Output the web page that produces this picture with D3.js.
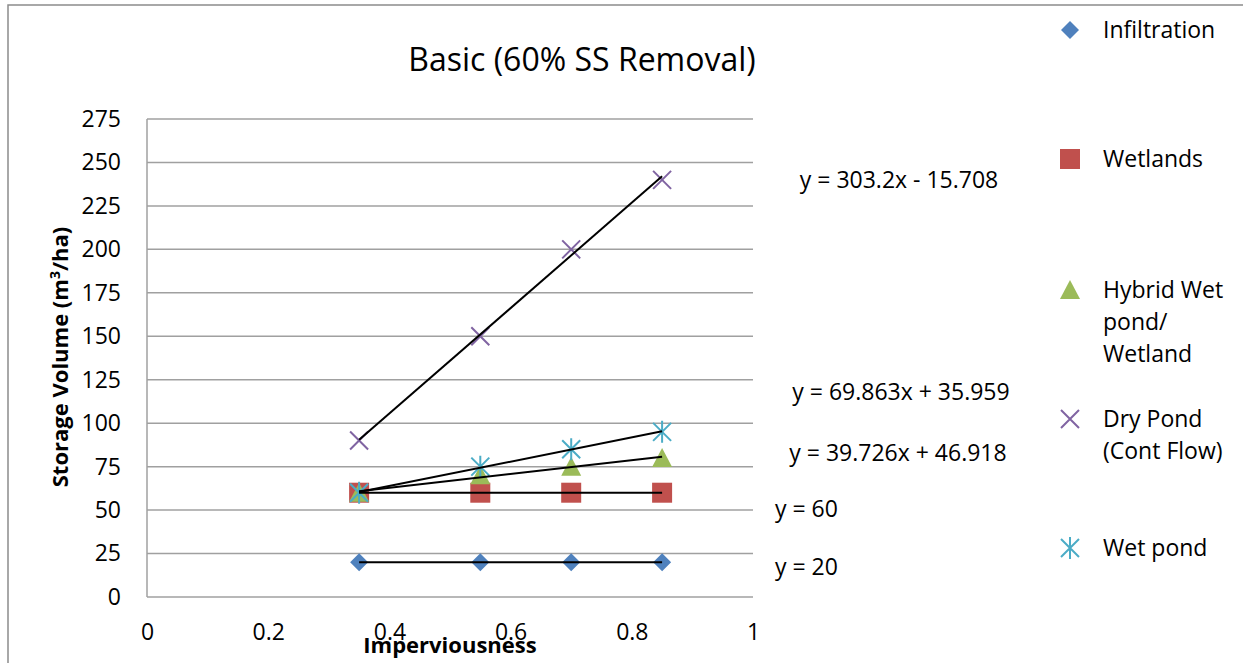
<!DOCTYPE html>
<html>
<head>
<meta charset="utf-8">
<script src="https://cdn.jsdelivr.net/npm/d3@7"></script>
<style>
  body { margin: 0; background: #fff; }
  svg text { font-family: "Open Sans", sans-serif; fill: #000; }
</style>
</head>
<body>
<svg id="chart" width="1243" height="663"></svg>
<script>
// data
var xValues = [0.35, 0.55, 0.7, 0.85];
var infiltration = [20, 20, 20, 20];
var wetlands = [60, 60, 60, 60];
var hybrid = [60, 70, 75, 80];
var dryPond = [90, 150, 200, 240];
var wetPond = [60, 75, 85, 95];
var seriesNames = ["Infiltration", "Wetlands", "Hybrid Wet pond/ Wetland", "Dry Pond (Cont Flow)", "Wet pond"];
var trendLabels = ["y = 20", "y = 60", "y = 39.726x + 46.918", "y = 303.2x - 15.708", "y = 69.863x + 35.959"];
var xTicks = [0, 0.2, 0.4, 0.6, 0.8, 1];
var yTicks = [0, 25, 50, 75, 100, 125, 150, 175, 200, 225, 250, 275];

var series = [
  {name: seriesNames[0], vals: infiltration, color: "#4F81BD", shape: "diamond", label: trendLabels[0], lx: 775, ly: 567, anchor: "start"},
  {name: seriesNames[1], vals: wetlands, color: "#C0504D", shape: "square", label: trendLabels[1], lx: 775, ly: 509, anchor: "start"},
  {name: seriesNames[2], vals: hybrid, color: "#9BBB59", shape: "triangle", label: trendLabels[2], lx: 898, ly: 453, anchor: "middle"},
  {name: seriesNames[3], vals: dryPond, color: "#8064A2", shape: "x", label: trendLabels[3], lx: 899, ly: 180, anchor: "middle"},
  {name: seriesNames[4], vals: wetPond, color: "#4BACC6", shape: "star", label: trendLabels[4], lx: 901, ly: 392, anchor: "middle"}
];

var svg = d3.select("#chart");

// outer chart border (cut off at right/bottom)
svg.append("rect")
  .attr("x", 8).attr("y", 5)
  .attr("width", 1300).attr("height", 700)
  .attr("fill", "none").attr("stroke", "#8c8c8c").attr("stroke-width", 1.5);

var plotLeft = 147, plotRight = 753, plotTop = 119, plotBottom = 597;
var fs = 23;

var x = d3.scaleLinear().domain([0, 1]).range([plotLeft, plotRight]);
var y = d3.scaleLinear().domain([0, 275]).range([plotBottom, plotTop]);

// gridlines
svg.append("g").selectAll("line")
  .data(yTicks)
  .enter().append("line")
    .attr("x1", plotLeft).attr("x2", plotRight)
    .attr("y1", function(d) { return y(d); })
    .attr("y2", function(d) { return y(d); })
    .attr("stroke", "#a0a0a0").attr("stroke-width", 1.5);

// y axis line
svg.append("line")
  .attr("x1", plotLeft).attr("x2", plotLeft).attr("y1", plotTop).attr("y2", plotBottom)
  .attr("stroke", "#a0a0a0").attr("stroke-width", 1.5);

var yAxis = d3.axisLeft(y).tickValues(yTicks).tickSize(0).tickPadding(26);
var gy = svg.append("g").attr("transform", "translate(" + plotLeft + ",0)").call(yAxis);
gy.select(".domain").remove();
gy.selectAll("text").style("font-size", fs + "px").style("font-family", "'Open Sans', sans-serif");

var xAxis = d3.axisBottom(x).tickValues(xTicks).tickSize(0).tickPadding(27)
  .tickFormat(function(d) { return String(d); });
var gx = svg.append("g").attr("transform", "translate(0," + plotBottom + ")").call(xAxis);
gx.select(".domain").remove();
gx.selectAll("text").style("font-size", fs + "px").style("font-family", "'Open Sans', sans-serif");

// title and axis titles
svg.append("text")
  .attr("x", 582).attr("y", 71)
  .attr("text-anchor", "middle")
  .style("font-size", "32px")
  .text("Basic (60% SS Removal)");

svg.append("text")
  .attr("x", 450).attr("y", 653)
  .attr("text-anchor", "middle")
  .style("font-size", "22px").style("font-weight", "bold")
  .text("Imperviousness");

var yt = svg.append("text")
  .attr("transform", "translate(68,357) rotate(-90)")
  .attr("text-anchor", "middle")
  .style("font-size", "22px").style("font-weight", "bold");
yt.append("tspan").text("Storage Volume (m");
yt.append("tspan").attr("dy", -8).style("font-size", "14px").text("3");
yt.append("tspan").attr("dy", 8).text("/ha)");

// marker drawing
function marker(g, shape, color) {
  if (shape === "diamond") {
    g.append("path").attr("d", "M0,-9L9,0L0,9L-9,0Z").attr("fill", color);
  } else if (shape === "square") {
    g.append("rect").attr("x", -10).attr("y", -10).attr("width", 20).attr("height", 20).attr("fill", color);
  } else if (shape === "triangle") {
    g.append("path").attr("d", "M0,-10L10,9L-10,9Z").attr("fill", color);
  } else if (shape === "x") {
    g.append("path").attr("d", "M-9,-9L9,9M-9,9L9,-9").attr("stroke", color).attr("stroke-width", 2).attr("fill", "none");
  } else if (shape === "star") {
    g.append("path").attr("d", "M-9,-9L9,9M-9,9L9,-9M0,-11L0,11").attr("stroke", color).attr("stroke-width", 2).attr("fill", "none");
  }
}

series.forEach(function(s) {
  var pts = xValues.map(function(xv, i) { return {x: xv, y: s.vals[i]}; });
  svg.append("g").selectAll("g")
    .data(pts)
    .enter().append("g")
      .attr("transform", function(d) { return "translate(" + x(d.x) + "," + y(d.y) + ")"; })
      .each(function() { marker(d3.select(this), s.shape, s.color); });
});

// linear trend lines (least squares)
series.forEach(function(s) {
  var mx = d3.mean(xValues), my = d3.mean(s.vals);
  var num = d3.sum(xValues, function(xv, i) { return (xv - mx) * (s.vals[i] - my); });
  var den = d3.sum(xValues, function(xv) { return (xv - mx) * (xv - mx); });
  var slope = num / den, icpt = my - slope * mx;
  var x0 = d3.min(xValues), x1 = d3.max(xValues);
  svg.append("line")
    .attr("x1", x(x0)).attr("y1", y(slope * x0 + icpt))
    .attr("x2", x(x1)).attr("y2", y(slope * x1 + icpt))
    .attr("stroke", "#000").attr("stroke-width", 2);
  svg.append("text")
    .attr("x", s.lx).attr("y", s.ly + 8)
    .attr("text-anchor", s.anchor)
    .style("font-size", fs + "px")
    .text(s.label);
});

// legend
var legendRows = [
  {lines: ["Infiltration"], y: 30},
  {lines: ["Wetlands"], y: 159},
  {lines: ["Hybrid Wet", "pond/", "Wetland"], y: 290},
  {lines: ["Dry Pond", "(Cont Flow)"], y: 419},
  {lines: ["Wet pond"], y: 548}
];
series.forEach(function(s, i) {
  var row = legendRows[i];
  var g = svg.append("g").attr("transform", "translate(1070," + row.y + ")");
  marker(g, s.shape, s.color);
  var t = svg.append("text").attr("x", 1103).attr("y", row.y + 8).style("font-size", fs + "px");
  row.lines.forEach(function(l, j) {
    t.append("tspan").attr("x", 1103).attr("dy", j === 0 ? 0 : 32).text(l);
  });
});
</script>
</body>
</html>
